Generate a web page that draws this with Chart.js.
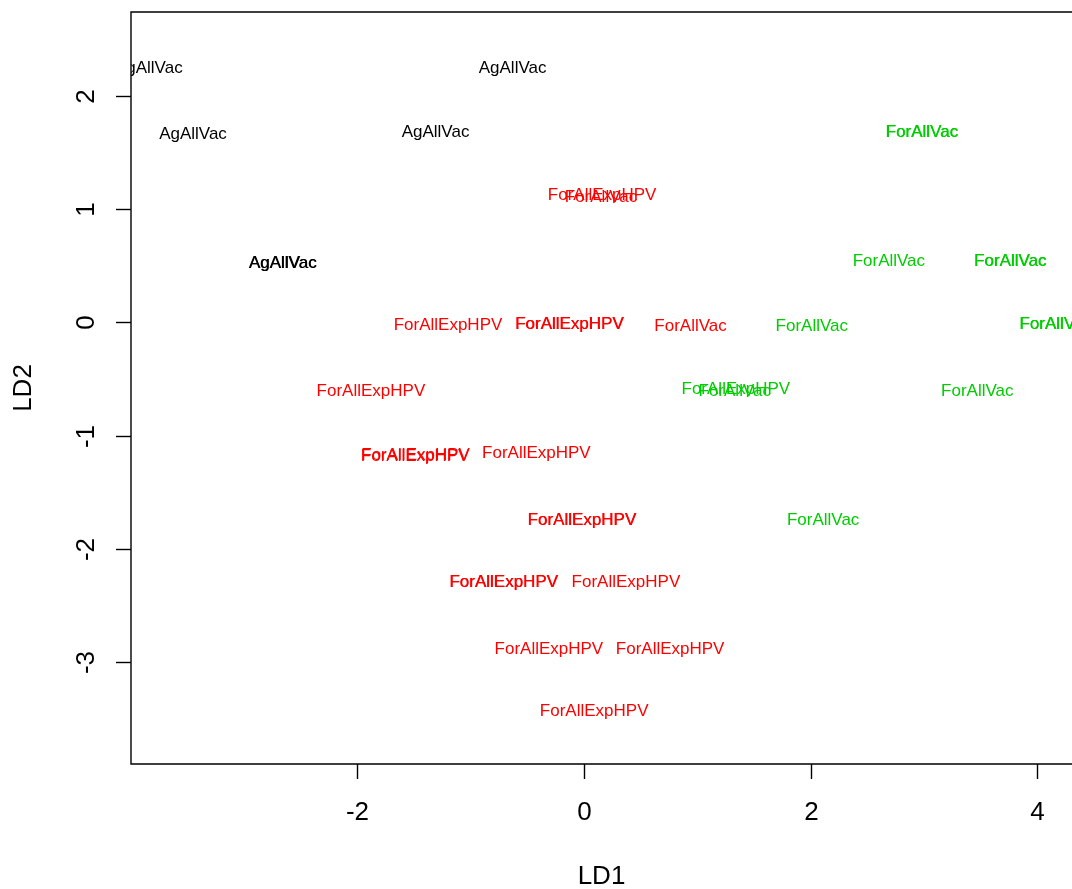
<!DOCTYPE html>
<html>
<head>
<meta charset="utf-8">
<script src="https://cdn.jsdelivr.net/npm/chart.js@4"></script>
<style>
  html, body { margin: 0; padding: 0; background: #fff; overflow: hidden; }
  canvas { display: block; }
</style>
</head>
<body>
<canvas id="ldaPlot" width="1072" height="889"></canvas>
<script>
// discriminant scores, one entry per observation
const ld1 = [
  -3.84, -0.63, -3.45, -1.31, -2.66, -2.655,
  0.16, 0.15, -1.20, -0.13, -0.126, 0.94, -1.88, -1.49, -1.486, -0.42,
  -0.02, -0.016, -0.71, -0.706, 0.37, -0.31, 0.76, 0.09,
  1.34, 1.33, 2.98, 2.984, 2.69, 3.76, 3.764, 4.16, 4.164, 2.01, 3.47, 2.11
];
const ld2 = [
  2.25, 2.25, 1.67, 1.69, 0.53, 0.532,
  1.13, 1.11, -0.02, -0.01, -0.008, -0.03, -0.60, -1.17, -1.168, -1.15,
  -1.74, -1.738, -2.29, -2.288, -2.29, -2.88, -2.88, -3.43,
  -0.58, -0.60, 1.69, 1.692, 0.55, 0.55, 0.552, -0.01, -0.008, -0.03, -0.60, -1.74
];
const classLabels = [
  "AgAllVac", "AgAllVac", "AgAllVac", "AgAllVac", "AgAllVac", "AgAllVac",
  "ForAllExpHPV", "ForAllVac", "ForAllExpHPV", "ForAllExpHPV", "ForAllExpHPV", "ForAllVac",
  "ForAllExpHPV", "ForAllExpHPV", "ForAllExpHPV", "ForAllExpHPV", "ForAllExpHPV", "ForAllExpHPV",
  "ForAllExpHPV", "ForAllExpHPV", "ForAllExpHPV", "ForAllExpHPV", "ForAllExpHPV", "ForAllExpHPV",
  "ForAllExpHPV", "ForAllVac", "ForAllVac", "ForAllVac", "ForAllVac", "ForAllVac",
  "ForAllVac", "ForAllVac", "ForAllVac", "ForAllVac", "ForAllVac", "ForAllVac"
];
// 0 = black, 1 = red, 2 = green
const groupIndex = [
  0, 0, 0, 0, 0, 0,
  1, 1, 1, 1, 1, 1, 1, 1, 1, 1, 1, 1, 1, 1, 1, 1, 1, 1,
  2, 2, 2, 2, 2, 2, 2, 2, 2, 2, 2, 2
];
const groupColors = ["#000000", "#FF0000", "#00CD00"];

const xTicks = [-2, 0, 2, 4];
const yTicks = [-3, -2, -1, 0, 1, 2];
const xTitle = "LD1";
const yTitle = "LD2";

const points = ld1.map((x, i) => ({ x: x, y: ld2[i] }));

const FONT = "'Liberation Sans', Arial, sans-serif";

// write the class name at every point, clipped to the plot region
const textPoints = {
  id: "textPoints",
  afterDatasetsDraw(chart) {
    const ctx = chart.ctx;
    const area = chart.chartArea;
    const meta = chart.getDatasetMeta(0);
    ctx.save();
    ctx.beginPath();
    ctx.rect(area.left, area.top, area.right - area.left, area.bottom - area.top);
    ctx.clip();
    ctx.font = "17px " + FONT;
    ctx.textAlign = "center";
    ctx.textBaseline = "middle";
    meta.data.forEach((el, i) => {
      ctx.fillStyle = groupColors[groupIndex[i]];
      ctx.fillText(classLabels[i], el.x, el.y + 1);
    });
    ctx.restore();
  }
};

// base-graphics style frame, outward ticks, rotated y labels
const boxAxes = {
  id: "boxAxes",
  afterDraw(chart) {
    const ctx = chart.ctx;
    const a = chart.chartArea;
    const xs = chart.scales.x;
    const ys = chart.scales.y;
    ctx.save();
    ctx.strokeStyle = "#000";
    ctx.lineWidth = 1.4;
    ctx.beginPath();
    ctx.moveTo(a.right + 2, a.top);
    ctx.lineTo(a.left, a.top);
    ctx.lineTo(a.left, a.bottom);
    ctx.lineTo(a.right + 2, a.bottom);
    ctx.stroke();

    ctx.fillStyle = "#000";
    ctx.font = "26px " + FONT;
    ctx.textAlign = "center";
    ctx.textBaseline = "middle";

    xTicks.forEach(v => {
      const px = Math.round(xs.getPixelForValue(v)) + 0.5;
      ctx.beginPath();
      ctx.moveTo(px, a.bottom);
      ctx.lineTo(px, a.bottom + 15);
      ctx.stroke();
      ctx.fillText(String(v), px, a.bottom + 49);
    });

    yTicks.forEach(v => {
      const py = Math.round(ys.getPixelForValue(v)) + 0.5;
      ctx.beginPath();
      ctx.moveTo(a.left, py);
      ctx.lineTo(a.left - 15, py);
      ctx.stroke();
      ctx.save();
      ctx.translate(a.left - 44, py);
      ctx.rotate(-Math.PI / 2);
      ctx.fillText(String(v), 0, 0);
      ctx.restore();
    });

    ctx.fillText(xTitle, (a.left + a.right) / 2, 877);
    ctx.save();
    ctx.translate(24, (a.top + a.bottom) / 2);
    ctx.rotate(-Math.PI / 2);
    ctx.fillText(yTitle, 0, 0);
    ctx.restore();
    ctx.restore();
  }
};

new Chart(document.getElementById("ldaPlot"), {
  type: "scatter",
  data: {
    datasets: [{
      data: points,
      pointRadius: 0,
      pointHoverRadius: 0
    }]
  },
  options: {
    responsive: false,
    animation: false,
    devicePixelRatio: 1,
    layout: { padding: { left: 131, top: 12, right: 0, bottom: 125 } },
    plugins: { legend: { display: false }, tooltip: { enabled: false } },
    scales: {
      x: { type: "linear", display: false, min: -3.997, max: 4.306 },
      y: { type: "linear", display: false, min: -3.901, max: 2.742 }
    }
  },
  plugins: [textPoints, boxAxes]
});
</script>
</body>
</html>
